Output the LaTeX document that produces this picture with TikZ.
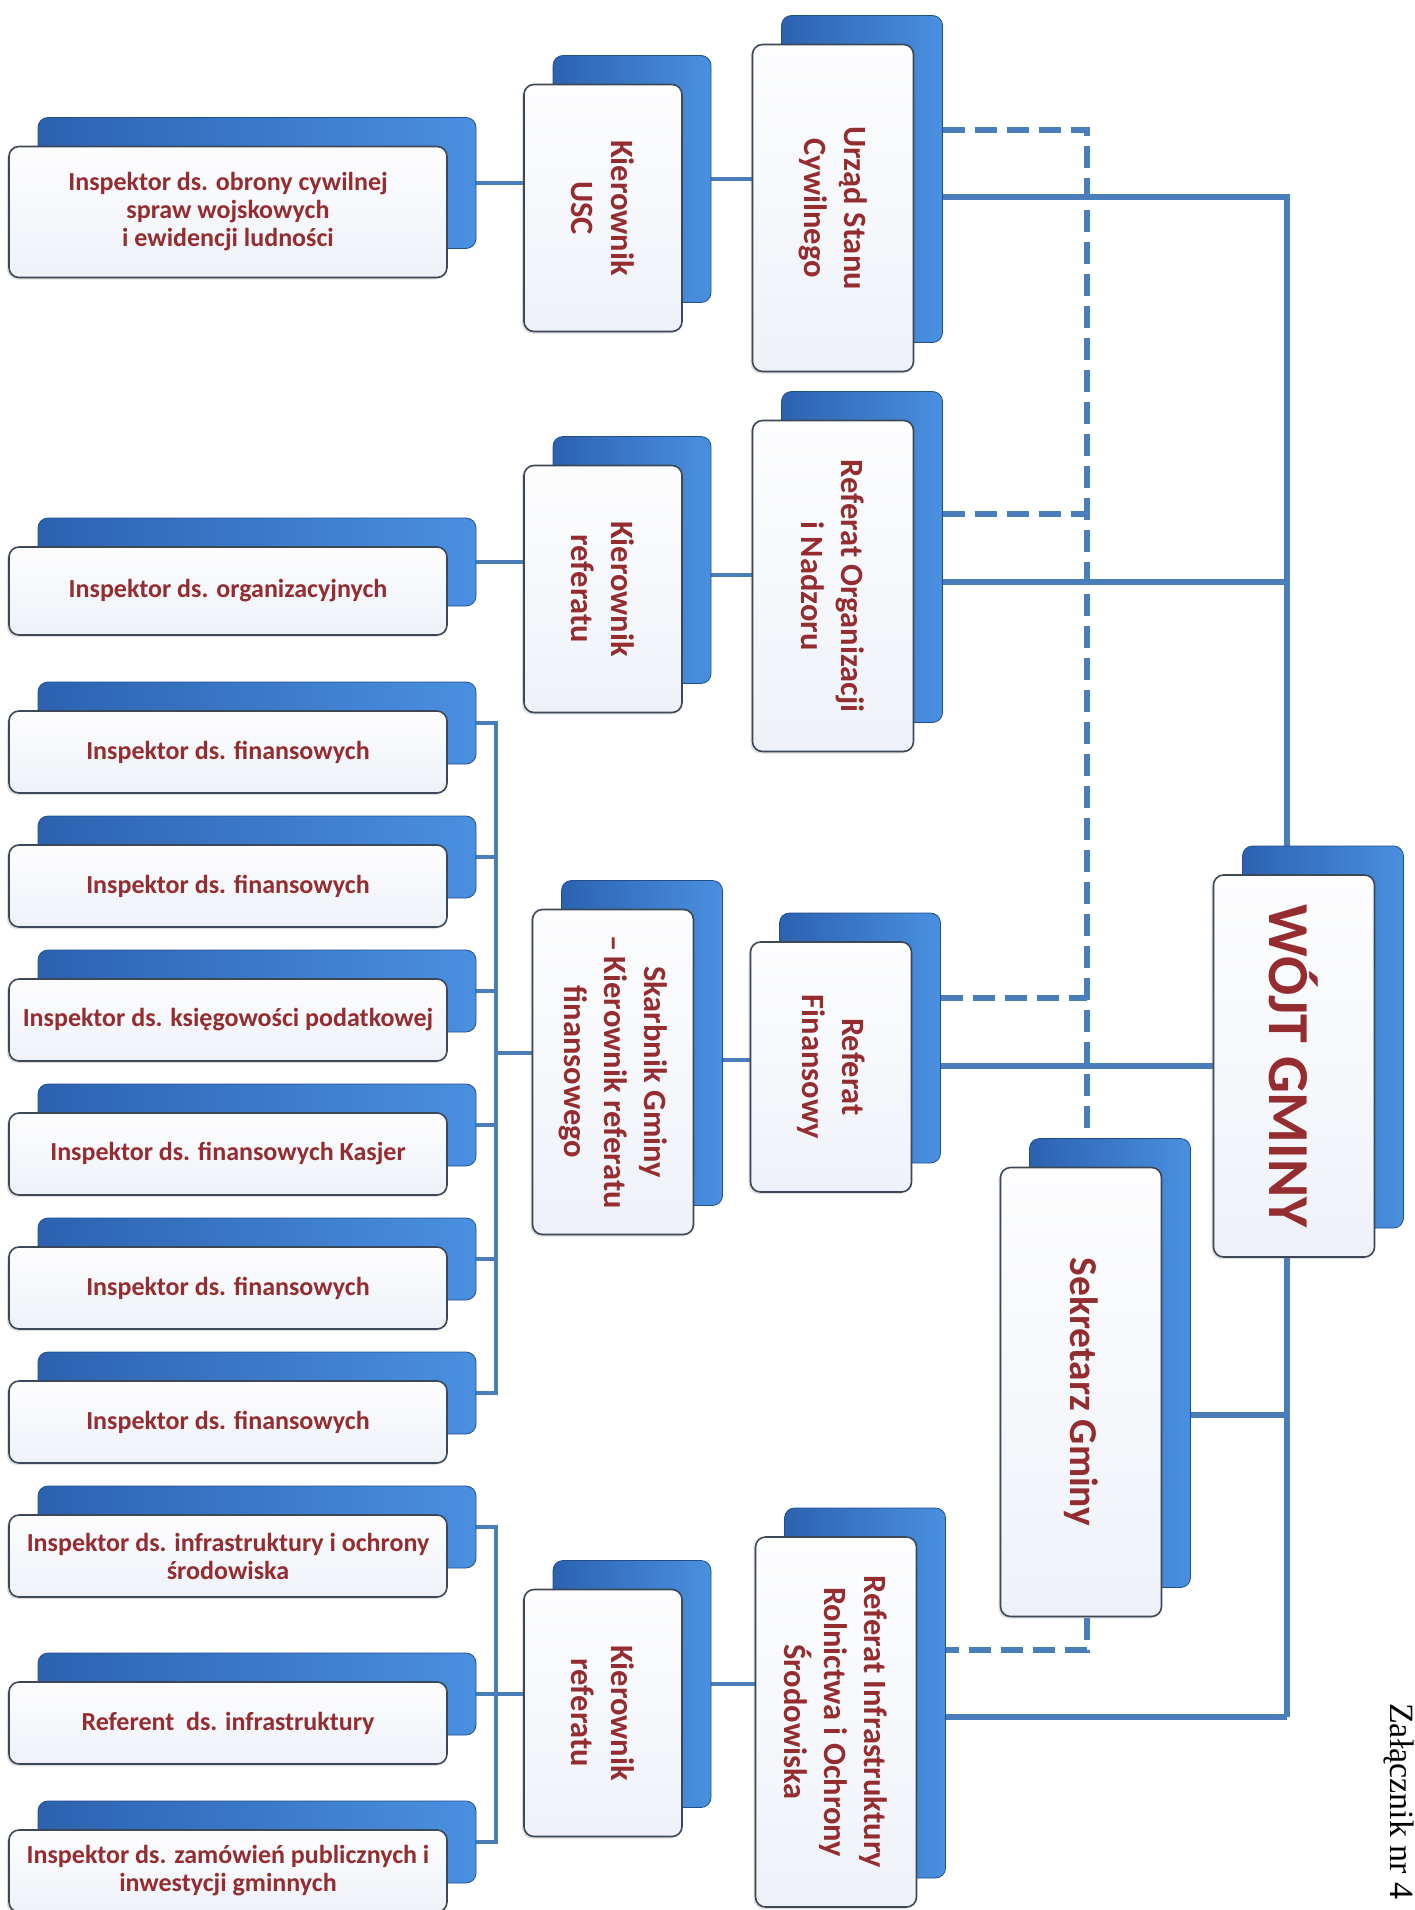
\documentclass[tikz,border=0pt]{standalone}
\usepackage{fontspec}
\setmainfont{Carlito}
\newfontfamily\annexfont{Liberation Serif}
\usetikzlibrary{backgrounds,shadows}
\definecolor{linkblue}{RGB}{74,126,187}
\definecolor{boxdark}{RGB}{44,98,176}
\definecolor{boxlight}{RGB}{74,144,224}
\definecolor{edgegray}{RGB}{60,72,88}
\definecolor{paneltop}{RGB}{253,253,254}
\definecolor{panelbot}{RGB}{238,242,248}
\definecolor{txtred}{RGB}{148,44,48}

\begin{document}
\begin{tikzpicture}[x=1pt,y=-1pt]
\tikzset{backbox/.style={rounded corners=10pt,left color=boxdark,right color=boxlight,
    draw=boxdark!80!black,line width=0.8pt,inner sep=0pt,xshift=29pt,yshift=29pt},
  frontbox/.style={rounded corners=10pt,top color=paneltop,bottom color=panelbot,
    draw=edgegray,line width=1.6pt,inner sep=4pt,text=txtred,align=center,
    drop shadow={shadow xshift=-2pt,shadow yshift=-2pt,opacity=0.25}},
  wh/.style 2 args={minimum width=#1pt,minimum height=#2pt},
  insp/.style={frontbox,wh={438}{82},font=\fontsize{26}{28}\selectfont\bfseries},
  vlab/.style={rotate=-90,align=center,inner sep=0pt,text=txtred,font=\fontsize{32.5}{40}\selectfont\bfseries},
  link/.style={draw=linkblue,line width=5.5pt},
  midlink/.style={draw=linkblue,line width=4.5pt},
  sublink/.style={draw=linkblue,line width=3.2pt},
  dashlink/.style={draw=linkblue,line width=6.5pt,dash pattern=on 22pt off 10pt}}
\useasboundingbox (0,0) rectangle (1415,1910);
% ================= inspectors (left column) =================
\node[backbox,wh={438}{131}] (oc-b) at (228,212) {};
\node[insp,wh={438}{131}] (oc) at (228,212) {Inspektor ds. obrony cywilnej\\spraw wojskowych\\i ewidencji ludności};
\node[backbox,wh={438}{88}] (org-b) at (228,591) {};
\node[insp,wh={438}{88}] (org) at (228,591) {Inspektor ds. organizacyjnych};
% finance group
\foreach \k/\yy/\txt in {1/752/Inspektor ds. finansowych,2/886/Inspektor ds. finansowych,
  3/1020/Inspektor ds. księgowości podatkowej,4/1154/Inspektor ds. finansowych Kasjer,
  5/1288/Inspektor ds. finansowych,6/1422/Inspektor ds. finansowych}{
  \node[backbox,wh={438}{82}] (fin\k-b) at (228,\yy) {};
  \node[insp] (fin\k) at (228,\yy) {\txt};}
% infrastructure group
\node[backbox,wh={438}{82}] (inf-b) at (228,1556) {};
\node[insp] (inf) at (228,1556) {Inspektor ds. infrastruktury i ochrony\\środowiska};
\node[backbox,wh={438}{82}] (ref-b) at (228,1723) {};
\node[insp] (ref) at (228,1723) {Referent\ \ ds. infrastruktury};
\node[backbox,wh={438}{82}] (zam-b) at (228,1871) {};
\node[insp] (zam) at (228,1871) {Inspektor ds. zamówień publicznych i\\inwestycji gminnych};
% ================= heads (second column) =================
\node[backbox,wh={158}{247}] (kusc-b) at (603,208) {};
\node[frontbox,wh={158}{247}] (kusc) at (603,208) {};
\node[vlab] (kusc-t) at (kusc) {Kierownik\\USC};
\node[backbox,wh={158}{247}] (kref1-b) at (603,589) {};
\node[frontbox,wh={158}{247}] (kref1) at (603,589) {};
\node[vlab] (kref1-t) at (kref1) {Kierownik\\referatu};
\node[backbox,wh={161}{325}] (skarb-b) at (613,1072) {};
\node[frontbox,wh={161}{325}] (skarb) at (613,1072) {};
\node[vlab] (skarb-t) at (skarb) {Skarbnik Gminy\\–\,Kierownik referatu\\finansowego};
\node[backbox,wh={158}{247}] (kref2-b) at (603,1713) {};
\node[frontbox,wh={158}{247}] (kref2) at (603,1713) {};
\node[vlab] (kref2-t) at (kref2) {Kierownik\\referatu};
% ================= departments (third column) =================
\node[backbox,wh={161}{327}] (usc-b) at (833,208) {};
\node[frontbox,wh={161}{327}] (usc) at (833,208) {};
\node[vlab] (usc-t) at (usc) {Urząd Stanu\\Cywilnego};
\node[backbox,wh={161}{331}] (rorg-b) at (833,586) {};
\node[frontbox,wh={161}{331}] (rorg) at (833,586) {};
\node[vlab] (rorg-t) at (rorg) {Referat Organizacji\\i Nadzoru};
\node[backbox,wh={161}{250}] (rfin-b) at (831,1067) {};
\node[frontbox,wh={161}{250}] (rfin) at (831,1067) {};
\node[vlab] (rfin-t) at (rfin) {Referat\\Finansowy};
\node[backbox,wh={161}{370}] (rinf-b) at (836,1722) {};
\node[frontbox,wh={161}{370}] (rinf) at (836,1722) {};
\node[vlab] (rinf-t) at (rinf) {Referat Infrastruktury\\Rolnictwa i Ochrony\\Środowiska};
% ================= secretary and head of commune =================
\node[backbox,wh={161}{449}] (sekr-b) at (1081,1392) {};
\node[frontbox,wh={161}{449}] (sekr) at (1081,1392) {};
\node[vlab,font=\fontsize{39.5}{46}\selectfont\bfseries] (sekr-t) at (sekr) {Sekretarz Gminy};
\node[backbox,wh={161}{382}] (wojt-b) at (1294,1066) {};
\node[frontbox,wh={161}{382}] (wojt) at (1294,1066) {};
\node[vlab,font=\fontsize{58}{64}\selectfont\bfseries] (wojt-t) at (wojt) {WÓJT GMINY};
% annex note
\node[rotate=-90,anchor=north west,inner sep=0pt,font=\annexfont\fontsize{34}{40}\selectfont] (annex) at (1414,1703) {Załącznik nr 4};
% ================= connectors =================
\begin{scope}[on background layer]
\fill[white] (0,0) rectangle (1415,1910);
% solid lines to the head of commune
\coordinate (jB) at (1287,1717);
\draw[link] ([yshift=-18pt]usc-b.east) -| (jB);
\draw[link] ([yshift=-25pt]rorg-b.east) -| (jB);
\draw[link] ([yshift=-52pt]sekr-b.east) -| (jB);
\draw[link] ([yshift=-24pt]rinf-b.east) -| (jB);
\draw[link] (rfin-b.east |- wojt.west) -- (wojt.west);
% dashed lines to the secretary
\coordinate (dT) at (1087,130);
\coordinate (dB) at (1087,1650);
\draw[dashlink] ([yshift=49pt]usc-b.east) -- (dT) -- (dB) -- ([yshift=43pt]rinf-b.east);
\draw[dashlink] ([yshift=43pt]rorg-b.east) coordinate (rorgD) -- (rorgD -| dT);
\draw[dashlink] ([yshift=40pt]rfin-b.east) coordinate (rfinD) -- (rfinD -| dT);
% heads to departments
\draw[midlink] (kusc-b.east) -- (kusc-b.east -| usc.west);
\draw[midlink] ([yshift=-15pt]kref1-b.east) coordinate (k1) -- (k1 -| rorg.west);
\draw[midlink] ([yshift=-17pt]skarb-b.east) coordinate (k2) -- (k2 -| rfin.west);
\draw[midlink] (kref2-b.east) -- (kref2-b.east -| rinf.west);
% inspectors to heads
\coordinate (fbus) at (496,1053);
\draw[sublink] (oc-b.east) -- (oc-b.east -| kusc.west);
\draw[sublink] (org-b.east) -- (org-b.east -| kref1.west);
\draw[sublink] (fin1-b.east) -| (fin6-b.east -| fbus) -- (fin6-b.east);
\foreach \k in {2,...,5}{\draw[sublink] (fin\k-b.east) -- (fin\k-b.east -| fbus);}
\draw[sublink] (fbus) -- (fbus -| skarb.west);
\draw[sublink] (inf-b.east) -| (zam-b.east -| fbus) -- (zam-b.east);
\draw[sublink] (ref-b.east) -- (ref-b.east -| kref2.west);
\end{scope}
\end{tikzpicture}
\end{document}
